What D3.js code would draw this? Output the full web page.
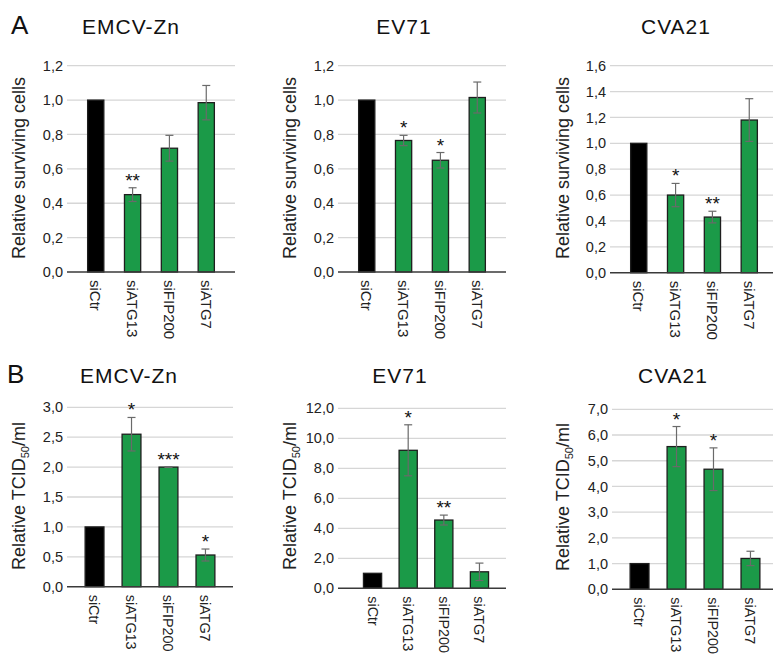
<!DOCTYPE html>
<html>
<head>
<meta charset="utf-8">
<script src="https://cdn.jsdelivr.net/npm/d3@7"></script>
<style>
body{margin:0;background:#fff;}
svg{font-family:"Liberation Sans",Arial,Helvetica,sans-serif;}
</style>
</head>
<body>
<script>
var categories=["siCtr","siATG13","siFIP200","siATG7"];

// A - relative surviving cells
var survEMCV=[1.0,0.45,0.72,0.985];
var survEMCVErr=[0,0.04,0.075,0.1];
var survEMCVSig=["","**","",""];
var survEV71=[1.0,0.765,0.65,1.015];
var survEV71Err=[0,0.03,0.045,0.09];
var survEV71Sig=["","*","*",""];
var survCVA21=[1.0,0.6,0.43,1.18];
var survCVA21Err=[0,0.09,0.045,0.165];
var survCVA21Sig=["","*","**",""];
var survTicks=[0,0.2,0.4,0.6,0.8,1.0,1.2];
var survTicksCVA21=[0,0.2,0.4,0.6,0.8,1.0,1.2,1.4,1.6];

// B - relative TCID50/ml
var titerEMCV=[1.0,2.55,2.0,0.53];
var titerEMCVErr=[0,0.28,0.006,0.1];
var titerEMCVSig=["","*","***","*"];
var titerEV71=[1.0,9.2,4.55,1.1];
var titerEV71Err=[0,1.7,0.33,0.58];
var titerEV71Sig=["","*","**",""];
var titerCVA21=[1.0,5.55,4.67,1.2];
var titerCVA21Err=[0,0.78,0.83,0.28];
var titerCVA21Sig=["","*","*",""];
var titerTicksEMCV=[0,0.5,1.0,1.5,2.0,2.5,3.0];
var titerTicksEV71=[0,2,4,6,8,10,12];
var titerTicksCVA21=[0,1,2,3,4,5,6,7];

var green='#1b9a48';
var fmt=d3.formatLocale({decimal:",",thousands:".",grouping:[3],currency:["","€"]}).format(".1f");

var svg=d3.select('body').append('svg')
    .attr('width',773)
    .attr('height',654);

var panels=[
  {title:"EMCV-Zn",vals:survEMCV,err:survEMCVErr,sig:survEMCVSig,ticks:survTicks,
   gx:67,x0:67,x1:235,base:272,top:65.7,tx:131,ty:34,lx:19,ly:168,kind:'A',pad:0.56},
  {title:"EV71",vals:survEV71,err:survEV71Err,sig:survEV71Sig,ticks:survTicks,
   gx:338,x0:338,x1:506,base:272,top:65.7,tx:404,ty:34,lx:290,ly:168,kind:'A',pad:0.56},
  {title:"CVA21",vals:survCVA21,err:survCVA21Err,sig:survCVA21Sig,ticks:survTicksCVA21,
   gx:610,x0:610,x1:778,base:272.7,top:65.7,tx:676,ty:34,lx:563,ly:168,kind:'A',pad:0.56},
  {title:"EMCV-Zn",vals:titerEMCV,err:titerEMCVErr,sig:titerEMCVSig,ticks:titerTicksEMCV,
   gx:67,x0:67,x1:233,base:586.7,top:407.3,tx:129,ty:383,lx:19,ly:496,kind:'B',pad:0.49},
  {title:"EV71",vals:titerEV71,err:titerEV71Err,sig:titerEV71Sig,ticks:titerTicksEV71,
   gx:338,x0:346,x1:506,base:588.3,top:408.3,tx:400,ty:383,lx:290,ly:496,kind:'B',pad:0.49},
  {title:"CVA21",vals:titerCVA21,err:titerCVA21Err,sig:titerCVA21Sig,ticks:titerTicksCVA21,
   gx:612,x0:612,x1:778,base:589.3,top:409.3,tx:673,ty:383,lx:563,ly:497,kind:'B',pad:0.49}
];

// panel letters
svg.append('text').attr('x',11).attr('y',34).attr('font-size',26).attr('fill','#111').text('A');
svg.append('text').attr('x',7).attr('y',383).attr('font-size',26).attr('fill','#111').text('B');

panels.forEach(function(p){
  var g=svg.append('g');
  var ymax=p.ticks[p.ticks.length-1];
  var y=d3.scaleLinear().domain([0,ymax]).range([p.base,p.top]);
  var x=d3.scaleBand().domain(categories).range([p.x0,p.x1]).padding(p.pad);
  var data=categories.map(function(c,i){return {cat:c,v:p.vals[i],e:p.err[i],s:p.sig[i]};});

  // gridlines
  g.selectAll('.grid').data(p.ticks.slice(1)).enter().append('line')
    .attr('x1',p.gx).attr('x2',p.x1)
    .attr('y1',function(d){return y(d);}).attr('y2',function(d){return y(d);})
    .attr('stroke','#d6d6d6').attr('stroke-width',1.3);

  // y axis labels
  var yAxis=d3.axisLeft(y).tickValues(p.ticks).tickFormat(fmt).tickSize(0).tickPadding(4);
  var ya=g.append('g').attr('transform','translate('+p.gx+',0)').call(yAxis);
  ya.select('.domain').remove();
  ya.selectAll('text').attr('font-size',14.5).attr('fill','#222')
    .attr('font-family','"Liberation Sans",Arial,sans-serif');

  // bars
  g.selectAll('.bar').data(data).enter().append('rect')
    .attr('x',function(d){return x(d.cat);})
    .attr('width',x.bandwidth())
    .attr('y',function(d){return y(d.v);})
    .attr('height',function(d){return p.base-y(d.v);})
    .attr('fill',function(d,i){return i===0?'#000':green;})
    .attr('stroke','#1e1e1e').attr('stroke-width',1.3);

  // error bars
  var eb=g.selectAll('.err').data(data.filter(function(d){return d.e>0;})).enter().append('g');
  eb.append('line')
    .attr('x1',function(d){return x(d.cat)+x.bandwidth()/2;})
    .attr('x2',function(d){return x(d.cat)+x.bandwidth()/2;})
    .attr('y1',function(d){return y(d.v+d.e);})
    .attr('y2',function(d){return y(d.v-d.e);});
  eb.append('line')
    .attr('x1',function(d){return x(d.cat)+x.bandwidth()/2-4;})
    .attr('x2',function(d){return x(d.cat)+x.bandwidth()/2+4;})
    .attr('y1',function(d){return y(d.v+d.e);})
    .attr('y2',function(d){return y(d.v+d.e);});
  eb.append('line')
    .attr('x1',function(d){return x(d.cat)+x.bandwidth()/2-4;})
    .attr('x2',function(d){return x(d.cat)+x.bandwidth()/2+4;})
    .attr('y1',function(d){return y(d.v-d.e);})
    .attr('y2',function(d){return y(d.v-d.e);});
  eb.selectAll('line').attr('stroke','#6a6a6a').attr('stroke-width',1.2);

  // significance stars
  g.selectAll('.sig').data(data.filter(function(d){return d.s;})).enter().append('text')
    .attr('x',function(d){return x(d.cat)+x.bandwidth()/2;})
    .attr('y',function(d){return y(d.v+d.e)-1;})
    .attr('text-anchor','middle').attr('font-size',19).attr('fill','#111')
    .text(function(d){return d.s;});

  // baseline
  g.append('line').attr('x1',p.gx).attr('x2',p.x1).attr('y1',p.base).attr('y2',p.base)
    .attr('stroke','#3a3a3a').attr('stroke-width',1.5);

  // x labels
  g.selectAll('.xl').data(categories).enter().append('text')
    .attr('transform',function(d){return 'translate('+(x(d)+x.bandwidth()/2)+','+(p.base+8)+') rotate(90)';})
    .attr('dy','0.35em').attr('font-size',p.kind==='A'?15:14.4).attr('fill','#222')
    .text(function(d){return d;});

  // title
  g.append('text').attr('x',p.tx).attr('y',p.ty).attr('text-anchor','middle')
    .attr('font-size',21).attr('letter-spacing',1).attr('fill','#111').text(p.title);

  // y axis title
  var yl=g.append('text')
    .attr('transform','translate('+p.lx+','+p.ly+') rotate(-90)')
    .attr('text-anchor','middle').attr('dy','0.35em')
    .attr('font-size',18).attr('fill','#222');
  if(p.kind==='A'){
    yl.text('Relative surviving cells');
  } else {
    yl.append('tspan').text('Relative TCID');
    yl.append('tspan').attr('font-size',11).attr('dy',4).text('50');
    yl.append('tspan').attr('dy',-4).text('/ml');
  }
});
</script>
</body>
</html>
